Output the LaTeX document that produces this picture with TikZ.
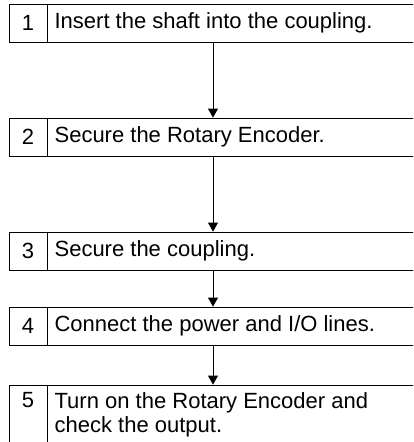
\documentclass[tikz,border=0pt]{standalone}
\usepackage{fontspec}
\setmainfont{Liberation Sans}
\usetikzlibrary{arrows.meta}

\tikzset{
	stepbox/.style={draw, line width=0.8pt, minimum width=408pt, minimum height=38pt, inner sep=0pt},
	numcell/.style={draw, line width=0.8pt, minimum width=38pt, minimum height=38pt, inner sep=0pt},
	steptext/.style={anchor=west, inner xsep=7pt, inner ysep=0pt},
	flow/.style={line width=0.8pt, -{Triangle[width=10pt,length=9pt]}},
}

\begin{document}
\begin{tikzpicture}[x=1pt,y=1pt,font=\fontsize{22}{24}\selectfont]
	\useasboundingbox (0,0) rectangle (413,-442);
	\clip (0,0) rectangle (413,-442);

	% steps
	\node[stepbox] (b1) at (213,-23) {};
	\node[numcell,anchor=west] (n1) at (b1.west) {1};
	\node[steptext] (t1) at (n1.east) {Insert the shaft into the coupling.};

	\node[stepbox] (b2) at (213,-137) {};
	\node[numcell,anchor=west] (n2) at (b2.west) {2};
	\node[steptext] (t2) at (n2.east) {Secure the Rotary Encoder.};

	\node[stepbox] (b3) at (213,-251) {};
	\node[numcell,anchor=west] (n3) at (b3.west) {3};
	\node[steptext] (t3) at (n3.east) {Secure the coupling.};

	\node[stepbox] (b4) at (213,-326) {};
	\node[numcell,anchor=west] (n4) at (b4.west) {4};
	\node[steptext] (t4) at (n4.east) {Connect the power and I/O lines.};

	\node[stepbox,minimum height=70pt] (b5) at (213,-420) {};
	\node[numcell,minimum height=70pt,anchor=north west] (c5) at (b5.north west) {};
	\node[anchor=north,inner sep=8pt] (n5) at (c5.north) {5};
	\node[anchor=north west,align=left,inner xsep=7pt,inner ysep=8pt] (t5) at (c5.north east) {Turn on the Rotary Encoder and\\check the output.};

	% arrows
	\draw[flow] (b1) -- (b2);
	\draw[flow] (b2) -- (b3);
	\draw[flow] (b3) -- (b4);
	\draw[flow] (b4) -- (b5);
\end{tikzpicture}
\end{document}
